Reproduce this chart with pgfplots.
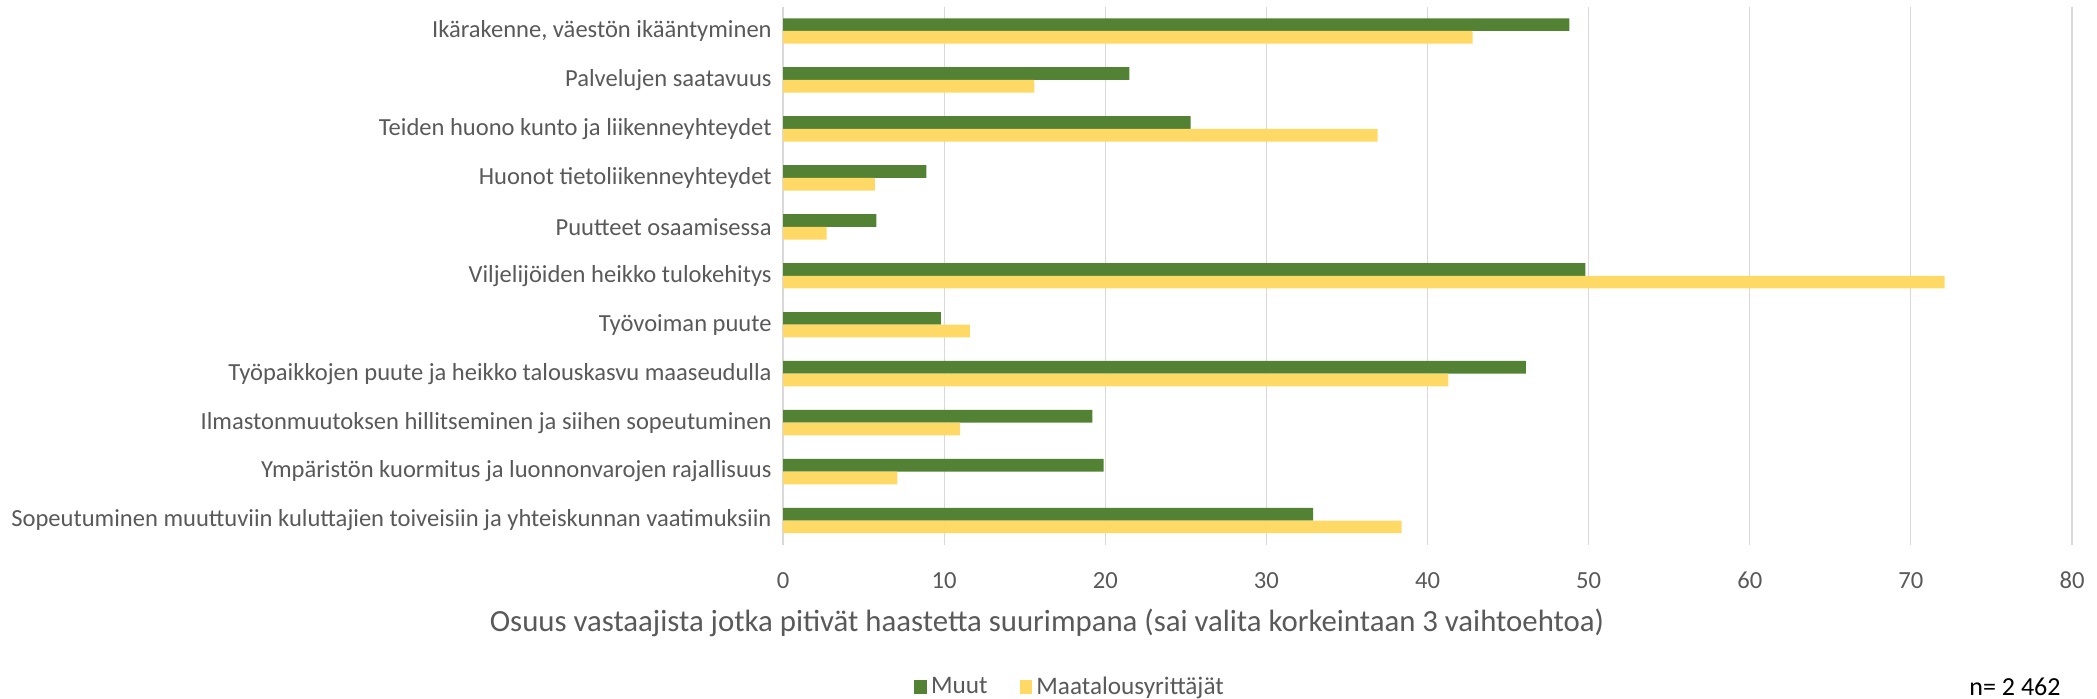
\documentclass[border=0pt]{standalone}
\usepackage{pgfplots}
\pgfplotsset{compat=1.18}
\usepackage{fontspec}
\setmainfont{Carlito}
\definecolor{muut}{HTML}{548235}
\definecolor{maat}{HTML}{FFD966}
\definecolor{gridg}{HTML}{D9D9D9}
\definecolor{txt}{HTML}{595959}
\begin{document}
\begin{tikzpicture}
\useasboundingbox (0,0) rectangle (1048.5pt,-349.5pt);
\begin{axis}[
  at={(391.5pt,-3.25pt)}, anchor=north west,
  scale only axis, width=644.5pt, height=269.25pt,
  xbar, bar width=6.35pt,
  xmin=0, xmax=80, xtick={0,10,...,80},
  ymin=-0.5, ymax=10.5, ytick={0,...,10}, y dir=reverse,
  yticklabels={{Ikärakenne, väestön ikääntyminen},{Palvelujen saatavuus},{Teiden huono kunto ja liikenneyhteydet},{Huonot tietoliikenneyhteydet},{Puutteet osaamisessa},{Viljelijöiden heikko tulokehitys},{Työvoiman puute},{Työpaikkojen puute ja heikko talouskasvu maaseudulla},{Ilmastonmuutoksen hillitseminen ja siihen sopeutuminen},{Ympäristön kuormitus ja luonnonvarojen rajallisuus},{Sopeutuminen muuttuviin kuluttajien toiveisiin ja yhteiskunnan vaatimuksiin}},
  axis line style={draw=none},
  major tick length=0pt,
  xmajorgrids, grid style={gridg, line width=0.6pt},
  tick label style={text=txt},
  xticklabel style={font=\fontsize{12.3}{14}\selectfont},
  yticklabel style={font=\fontsize{12.28}{14}\selectfont},
  /pgf/number format/assume math mode=true,
  yticklabel style={inner sep=0pt, xshift=-5.5pt},
  xticklabel style={inner sep=0pt, anchor=base, yshift=-21.5pt},
  legend columns=2,
  legend style={at={(0.2235,-0.2637)}, anchor=center, draw=none, fill=none,
    font=\fontsize{12.6}{14}\selectfont, text=txt,
    /tikz/every even column/.append style={column sep=14pt}},
  legend image code/.code={\fill[#1] (0pt,-3.4pt) rectangle (6.4pt,3.4pt);},
]
\addplot[fill=muut, draw=none, bar shift=3.175pt] coordinates {(48.8,0) (21.5,1) (25.3,2) (8.9,3) (5.8,4) (49.8,5) (9.8,6) (46.1,7) (19.2,8) (19.9,9) (32.9,10)};
\addplot[fill=maat, draw=none, bar shift=-3.175pt] coordinates {(42.8,0) (15.6,1) (36.9,2) (5.7,3) (2.7,4) (72.1,5) (11.6,6) (41.3,7) (11.0,8) (7.1,9) (38.4,10)};
\legend{Muut, Maatalousyrittäjät}
\end{axis}
\node[font=\fontsize{15.4}{18}\selectfont, text=txt] at (523.5pt,-311.5pt) {Osuus vastaajista jotka pitivät haastetta suurimpana (sai valita korkeintaan 3 vaihtoehtoa)};
\node[font=\fontsize{13}{16}\selectfont] at (1007.5pt,-343.5pt) {n= 2 462};
\end{tikzpicture}
\end{document}
